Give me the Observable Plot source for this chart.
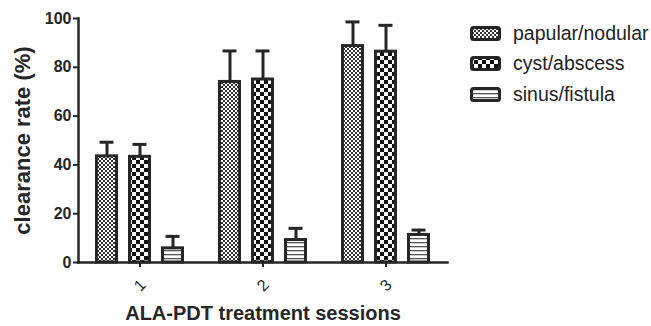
<!DOCTYPE html>
<html>
<head>
<meta charset="utf-8">
<script src="https://cdn.jsdelivr.net/npm/d3@7"></script>
<script src="https://cdn.jsdelivr.net/npm/@observablehq/plot@0.6"></script>
<style>
  html, body { margin: 0; padding: 0; background: #fff; }
  #wrap { position: relative; width: 651px; height: 326px; font-family: Arial, "Liberation Sans", sans-serif; }
  #legend { position: absolute; left: 470px; top: 18px; }
  .item { display: flex; align-items: center; height: 30.5px; font-size: 19.5px; color: #222; }
  .item svg { margin-right: 12px; }
</style>
</head>
<body>
<div id="wrap"><div id="chart"></div><div id="legend"></div></div>
<script>
const sessions = ["1", "2", "3"];
const types = ["papular/nodular", "cyst/abscess", "sinus/fistula"];
const papular = [43.5, 74.0, 88.7];
const papularSD = [5.8, 12.7, 9.9];
const cyst = [43.3, 75.0, 86.4];
const cystSD = [5.1, 11.7, 10.8];
const sinus = [5.8, 9.2, 11.3];
const sinusSD = [4.9, 4.8, 2.0];
const yTicks = [0, 20, 40, 60, 80, 100];

const series = [papular, cyst, sinus];
const sds = [papularSD, cystSD, sinusSD];
const patIds = ["pFine", "pCoarse", "pLines"];
const offsets = [-33, 0, 33];
const ink = "#262626";

const marks = [];
series.forEach((vals, k) => {
  const rows = sessions.map((s, i) => ({session: s, type: types[k], value: vals[i], upper: vals[i] + sds[k][i]}));
  marks.push(Plot.ruleX(rows, {x: "session", y1: "value", y2: "upper", dx: offsets[k], stroke: ink, strokeWidth: 3}));
  marks.push(Plot.tickY(rows, {x: "session", y: "upper", dx: offsets[k], insetLeft: 54.5, insetRight: 54.5, stroke: ink, strokeWidth: 3}));
  marks.push(Plot.barY(rows, {x: "session", y: "value", dx: offsets[k], insetLeft: 51.5, insetRight: 51.5, fill: `url(#${patIds[k]})`, stroke: ink, strokeWidth: 3}));
});

const chart = Plot.plot({
  width: 651,
  height: 326,
  marginLeft: 78,
  marginRight: 204,
  marginTop: 18,
  marginBottom: 64,
  style: {fontFamily: "Arial, 'Liberation Sans', sans-serif", fontSize: "16px", color: ink, background: "#fff"},
  x: {domain: sessions, padding: 0},
  y: {domain: [0, 100]},
  marks: [
    Plot.axisY({ticks: yTicks, tickSize: 5, tickPadding: 2, strokeWidth: 2, fontSize: 16, fontWeight: "bold",
      label: "clearance rate (%)", labelAnchor: "center", labelOffset: 64, labelArrow: "none"}),
    Plot.axisX({tickSize: 5, strokeWidth: 2, tickRotate: -45, textAnchor: "middle", tickPadding: 18, fontSize: 16,
      label: "ALA-PDT treatment sessions", labelAnchor: "center", labelOffset: 57, labelArrow: "none"}),
    ...marks,
    Plot.frame({anchor: "left", stroke: ink, strokeWidth: 2.5}),
    Plot.frame({anchor: "bottom", stroke: ink, strokeWidth: 2.5})
  ]
});

function addDefs(svg) {
  const defs = d3.select(svg).insert("defs", ":first-child");
  const f = defs.append("pattern").attr("id", "pFine").attr("patternUnits", "userSpaceOnUse").attr("width", 4).attr("height", 4);
  f.append("rect").attr("width", 4).attr("height", 4).attr("fill", "#fff");
  f.append("rect").attr("width", 2).attr("height", 2).attr("fill", "#333");
  f.append("rect").attr("x", 2).attr("y", 2).attr("width", 2).attr("height", 2).attr("fill", "#333");
  const c = defs.append("pattern").attr("id", "pCoarse").attr("patternUnits", "userSpaceOnUse").attr("width", 8).attr("height", 8);
  c.append("rect").attr("width", 8).attr("height", 8).attr("fill", "#fff");
  c.append("rect").attr("width", 4).attr("height", 4).attr("fill", "#111");
  c.append("rect").attr("x", 4).attr("y", 4).attr("width", 4).attr("height", 4).attr("fill", "#111");
  const l = defs.append("pattern").attr("id", "pLines").attr("patternUnits", "userSpaceOnUse").attr("width", 4).attr("height", 4);
  l.append("rect").attr("width", 4).attr("height", 4).attr("fill", "#fff");
  l.append("rect").attr("y", 2).attr("width", 4).attr("height", 1.3).attr("fill", "#555");
}
addDefs(chart);
d3.select(chart).selectAll("text").each(function () {
  const holder = this.closest("[aria-label]");
  const lab = holder ? holder.getAttribute("aria-label") : "";
  const s = this.style;
  if (lab.startsWith("y-axis label")) { s.fontSize = "22px"; s.fontWeight = "bold"; }
  else if (lab.startsWith("x-axis label")) { s.fontSize = "20px"; s.fontWeight = "bold"; }
  else if (lab.startsWith("y-axis")) { s.fontSize = "16px"; s.fontWeight = "bold"; }
  else if (lab.startsWith("x-axis")) { s.fontSize = "16px"; s.fontWeight = "normal"; }
});
document.getElementById("chart").appendChild(chart);

const legend = document.getElementById("legend");
types.forEach((t, k) => {
  const item = document.createElement("div");
  item.className = "item";
  item.innerHTML = `<svg width="31" height="15"><rect x="1.5" y="1.5" width="28" height="12" rx="2" fill="url(#${patIds[k]})" stroke="${ink}" stroke-width="3"/></svg><span>${t}</span>`;
  legend.appendChild(item);
});
</script>
</body>
</html>
